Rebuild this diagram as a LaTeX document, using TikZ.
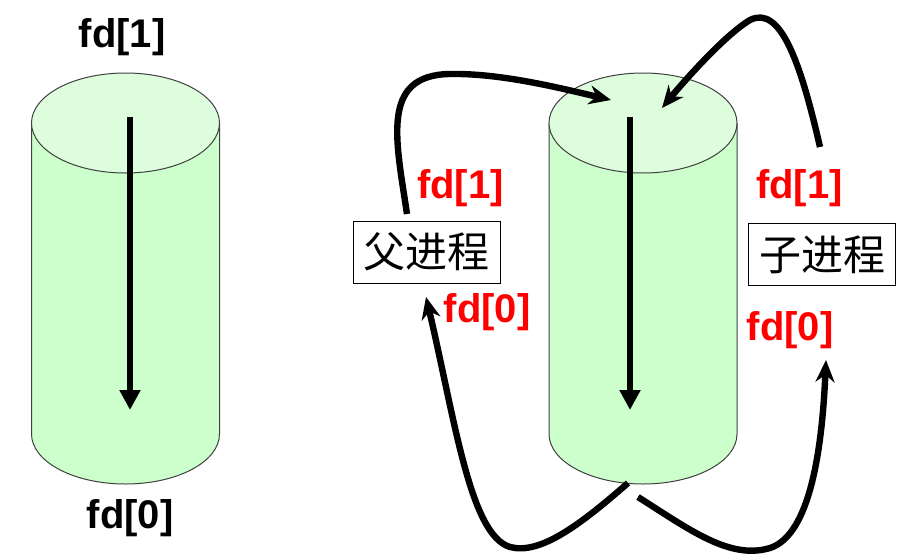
\documentclass[tikz,border=0pt]{standalone}
\usepackage{fontspec}
\setmainfont{Liberation Sans}
\newfontfamily\cjk{Noto Sans CJK SC}
\usetikzlibrary{arrows.meta}
\definecolor{pipeside}{HTML}{CCFFCC}
\definecolor{pipetop}{HTML}{DDFDDD}
\definecolor{fdred}{HTML}{FF0000}

\begin{document}
\begin{tikzpicture}[x=0.5pt,y=0.5pt,
    fdlbl/.style={font=\fontsize{20}{24}\selectfont\bfseries, inner sep=0pt},
    redlbl/.style={fdlbl, text=fdred},
    proc/.style={draw, line width=0.5pt, font=\cjk\fontsize{21}{24}\selectfont,
        minimum width=73.5pt, minimum height=31pt, inner sep=0pt},
    flow/.style={line width=3.2pt, -{Stealth[length=11pt,width=9.5pt]}},
    down/.style={line width=3pt, -{Triangle[length=10pt,width=10pt]}}]
    \useasboundingbox (0,0) rectangle (915,559);

    % the two pipes
    \foreach \cx in {125.5,643} {
        \fill[pipeside] (\cx-94,125) -- (\cx-94,436) -- (\cx+94,436) -- (\cx+94,125)
            arc[start angle=0, end angle=-180, x radius=47pt, y radius=25pt] -- cycle;
        \draw[line width=0.5pt, black!75] (\cx-94,436) -- (\cx-94,125)
            arc[start angle=180, end angle=360, x radius=47pt, y radius=25pt] -- (\cx+94,436);
        \filldraw[fill=pipetop, draw=black!75, line width=0.5pt] (\cx,436) ellipse [x radius=47pt, y radius=25pt];
    }

    % left pipe
    \node[fdlbl] (wlbl) at (122,522) {fd[1]};
    \node[fdlbl] (rlbl) at (130,41) {fd[0]};
    \coordinate (ltop) at (130,442);
    \coordinate (lbot) at (130,149);
    \draw[down] (ltop) -- (lbot);

    % right pipe
    \coordinate (rtop) at (630,442);
    \coordinate (rbot) at (630,149);
    \draw[down] (rtop) -- (rbot);

    \node[proc] (parent) at (426.5,307) {父进程};
    \node[proc] (child) at (822,304.5) {子进程};

    \node[redlbl] (pw) at (460.5,371) {fd[1]};
    \node[redlbl] (pr) at (487,247) {fd[0]};
    \node[redlbl] (cw) at (799.5,371) {fd[1]};
    \node[redlbl] (cr) at (790,229) {fd[0]};

    \coordinate (pstart) at (407,345);
    \coordinate (cstart) at (820,412);
    \coordinate (pin) at (611,459);
    \coordinate (cin) at (662,451);
    \coordinate (pout) at (628,76);
    \coordinate (cout) at (638,62);
    \coordinate (pend) at (426,262);
    \coordinate (cend) at (826,199);

    \draw[flow] (pstart) .. controls (396,419) and (380,484) .. (450,485)
        .. controls (500,486) and (560,471) .. (pin);
    \draw[flow] (cstart) .. controls (800,499) and (780,554) .. (750,539)
        .. controls (725,524) and (685,479) .. (cin);
    \draw[flow] (pout) .. controls (580,34) and (540,4) .. (510,12)
        .. controls (470,24) and (455,139) .. (pend);
    \draw[flow] (cout) .. controls (690,29) and (730,-1) .. (770,11)
        .. controls (810,24) and (822,109) .. (cend);
\end{tikzpicture}
\end{document}
